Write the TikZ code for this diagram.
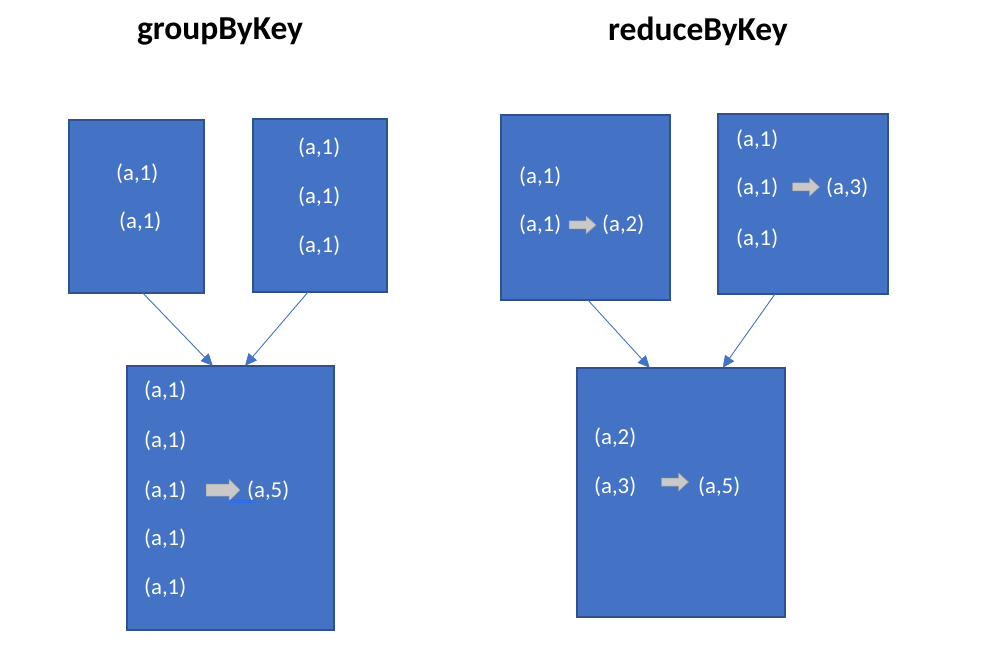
\documentclass[tikz,border=0pt]{standalone}
\usepackage{fontspec}
\setmainfont{Carlito}
\usetikzlibrary{arrows.meta,calc}
\definecolor{boxfill}{HTML}{4472C4}
\definecolor{boxedge}{HTML}{2F528F}
\definecolor{arrgray}{HTML}{C9C9C9}
\definecolor{arredge}{HTML}{A0A0A0}
\definecolor{ulblue}{HTML}{2E6BE6}
\tikzset{
  box/.style={draw=boxedge, line width=1.5pt, fill=boxfill},
  lbl/.style={text=white, font=\fontsize{22.8}{26}\selectfont, inner sep=0pt, anchor=base west},
  ttl/.style={font=\bfseries\fontsize{33.5}{40}\selectfont, inner sep=0pt},
  conn/.style={draw=boxfill, line width=0.9pt, -{Triangle[length=12pt,width=11pt]}},
  barrow/.style={fill=arrgray, draw=arredge, line width=0.5pt}
}
% block arrow: center x, center y, total length, shaft half-height, head half-height, head length
\newcommand\blockarr[6]{%
  \path[barrow] ({#1-#3/2},{#2-#4}) -- ({#1+#3/2-#6},{#2-#4}) -- ({#1+#3/2-#6},{#2-#5})
    -- ({#1+#3/2},{#2}) -- ({#1+#3/2-#6},{#2+#5}) -- ({#1+#3/2-#6},{#2+#4})
    -- ({#1-#3/2},{#2+#4}) -- cycle;}
\begin{document}
\begin{tikzpicture}[x=1pt,y=-1pt]
\useasboundingbox (0,0) rectangle (992,652);
% titles
\node[ttl] (t1) at (220,31) {groupByKey};
\node[ttl] (t2) at (698,31) {reduceByKey};
% boxes
\path[box] (69,120) rectangle (204,293);
\node (L1) [minimum width=135pt, minimum height=173pt, inner sep=0pt] at (136.5,206.5) {};
\path[box] (253,119) rectangle (387,292);
\node (L2) [minimum width=134pt, minimum height=173pt, inner sep=0pt] at (320,205.5) {};
\path[box] (127,366) rectangle (334,630);
\node (L3) [minimum width=207pt, minimum height=264pt, inner sep=0pt] at (230.5,498) {};
\path[box] (501,115) rectangle (670,300);
\node (R1) [minimum width=169pt, minimum height=185pt, inner sep=0pt] at (585.5,207.5) {};
\path[box] (718,114) rectangle (888,294);
\node (R2) [minimum width=170pt, minimum height=180pt, inner sep=0pt] at (803,204) {};
\path[box] (577,368) rectangle (785,617);
\node (R3) [minimum width=208pt, minimum height=249pt, inner sep=0pt] at (681,492.5) {};
% L1 texts
\node[lbl] (l1a) at (116,181) {(a,1)};
\node[lbl] (l1b) at (119,229) {(a,1)};
% L2 texts
\node[lbl] (l2a) at (298,155) {(a,1)};
\node[lbl] (l2b) at (298,204) {(a,1)};
\node[lbl] (l2c) at (298,252) {(a,1)};
% L3 texts
\node[lbl] (l3a) at (144,397) {(a,1)};
\node[lbl] (l3b) at (144,447) {(a,1)};
\node[lbl] (l3c) at (144,497) {(a,1)};
\node[lbl] (l3d) at (144,545) {(a,1)};
\node[lbl] (l3e) at (144,594) {(a,1)};
\blockarr{223}{490}{34}{6}{11}{11}
\node[lbl] (l3r) at (247,497) {(a,5)};
\draw[ulblue, line width=0.6pt] (229,500.5) -- (253,500.5);
\draw[ulblue, line width=0.6pt] (229,502.5) -- (253,502.5);
% R1 texts
\node[lbl] (r1a) at (519,184) {(a,1)};
\node[lbl] (r1b) at (519,232) {(a,1)};
\blockarr{582.5}{225}{27}{4}{9}{10}
\node[lbl] (r1r) at (602,232) {(a,2)};
% R2 texts
\node[lbl] (r2a) at (736,147) {(a,1)};
\node[lbl] (r2b) at (736,195) {(a,1)};
\blockarr{806}{187}{27}{4}{9}{10}
\node[lbl] (r2r) at (826,195) {(a,3)};
\node[lbl] (r2c) at (736,245) {(a,1)};
% R3 texts
\node[lbl] (r3a) at (594,444) {(a,2)};
\node[lbl] (r3b) at (594,493) {(a,3)};
\blockarr{675}{482}{27}{4}{9}{10}
\node[lbl] (r3r) at (698,493) {(a,5)};
% connectors
\coordinate (c1s) at ($(L1.south west)!0.548!(L1.south east)$);
\coordinate (c1e) at ($(L3.north west)!0.415!(L3.north east)$);
\coordinate (c2s) at ($(L2.south west)!0.41!(L2.south east)$);
\coordinate (c2e) at ($(L3.north west)!0.57!(L3.north east)$);
\coordinate (c3s) at ($(R1.south west)!0.515!(R1.south east)$);
\coordinate (c3e) at ($(R3.north west)!0.35!(R3.north east)$);
\coordinate (c4s) at ($(R2.south west)!0.335!(R2.south east)$);
\coordinate (c4e) at ($(R3.north west)!0.70!(R3.north east)$);
\draw[conn] (c1s) -- (c1e);
\draw[conn] (c2s) -- (c2e);
\draw[conn] (c3s) -- (c3e);
\draw[conn] (c4s) -- (c4e);
\end{tikzpicture}
\end{document}
